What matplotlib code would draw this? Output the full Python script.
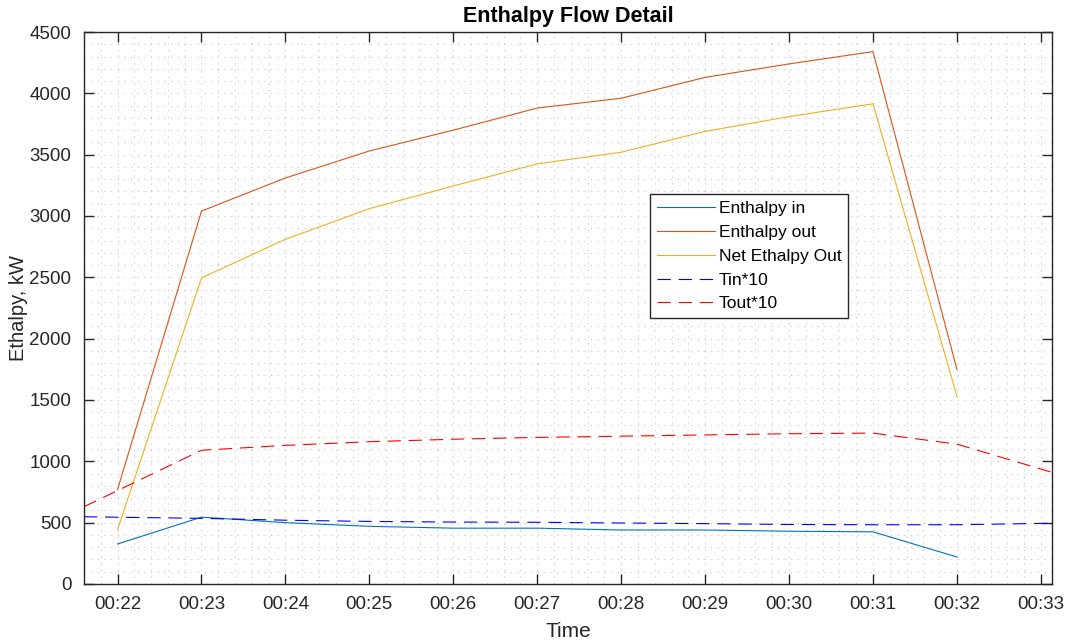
import matplotlib.pyplot as plt
import pandas as pd
from matplotlib.ticker import FuncFormatter, MultipleLocator

plt.rcParams["font.family"] = ["Liberation Sans", "DejaVu Sans"]

# per-minute enthalpy readings, kW
flow_times = ["00:22", "00:23", "00:24", "00:25", "00:26", "00:27",
              "00:28", "00:29", "00:30", "00:31", "00:32"]
enthalpy_in = [326, 545, 500, 470, 455, 455, 440, 440, 430, 425, 220]
enthalpy_out = [770, 3040, 3310, 3530, 3700, 3880, 3960, 4130, 4240, 4340, 1750]

# temperatures (x10) logged over a slightly wider window
temp_times = ["00:21:36", "00:23:00", "00:24:00", "00:25:00", "00:26:00", "00:27:00",
              "00:28:00", "00:29:00", "00:30:00", "00:31:00", "00:32:00", "00:33:08"]
tin_x10 = [548, 535, 520, 510, 505, 503, 497, 492, 485, 483, 483, 495]
tout_x10 = [630, 1090, 1130, 1160, 1180, 1195, 1205, 1215, 1225, 1230, 1140, 910]


def to_minutes(labels):
    # "hh:mm" or "hh:mm:ss" -> minutes since midnight
    t = pd.to_timedelta([s + ":00" if s.count(":") == 1 else s for s in labels])
    return t.total_seconds() / 60.0


x_flow = to_minutes(flow_times)
x_temp = to_minutes(temp_times)
net_out = [o - i for o, i in zip(enthalpy_out, enthalpy_in)]

fig = plt.figure(figsize=(10.67, 6.44), dpi=100)
ax = fig.add_axes([0.0787, 0.0932, 0.9073, 0.8571])

lw = 0.8
dash = (0, (12, 7))
ax.plot(x_flow, enthalpy_in, color="#0072BD", lw=lw, label="Enthalpy in")
ax.plot(x_flow, enthalpy_out, color="#D95319", lw=lw, label="Enthalpy out")
ax.plot(x_flow, net_out, color="#EDB120", lw=lw, label="Net Ethalpy Out")
ax.plot(x_temp, tin_x10, color="blue", lw=lw, ls=dash, label="Tin*10")
ax.plot(x_temp, tout_x10, color="red", lw=lw, ls=dash, label="Tout*10")

ax.set_xlim(x_temp[0], x_temp[-1])
ax.set_ylim(0, 4500)
ax.xaxis.set_major_locator(MultipleLocator(1))
ax.xaxis.set_minor_locator(MultipleLocator(0.2))
ax.yaxis.set_major_locator(MultipleLocator(500))
ax.yaxis.set_minor_locator(MultipleLocator(100))
ax.xaxis.set_major_formatter(FuncFormatter(lambda v, p: "00:%02d" % round(v)))

ax.grid(True, which="both", ls=(0, (1, 5)), color="#c4c4c4", lw=0.8)
ax.set_axisbelow(True)
ax.tick_params(which="major", direction="in", length=7, width=1, top=True, right=True,
               labelsize=13.5, labelcolor="#262626", pad=9, color="#262626")
ax.tick_params(which="minor", length=0, top=True, right=True)
for s in ax.spines.values():
    s.set_color("#262626")
    s.set_linewidth(1)

ax.set_title("Enthalpy Flow Detail", fontsize=15.5, fontweight="bold", pad=7)
ax.set_xlabel("Time", fontsize=15, color="#262626", labelpad=6)
ax.set_ylabel("Ethalpy, kW", fontsize=14.5, color="#262626", labelpad=1)

leg = ax.legend(loc="upper left", bbox_to_anchor=(0.585, 0.7065), fontsize=12.5,
                fancybox=False, framealpha=1, edgecolor="#262626",
                handlelength=3.3, handletextpad=0.25, borderpad=0.4,
                labelspacing=0.5, borderaxespad=0)
leg.get_frame().set_linewidth(1)

fig.savefig("out.png", dpi=100)
